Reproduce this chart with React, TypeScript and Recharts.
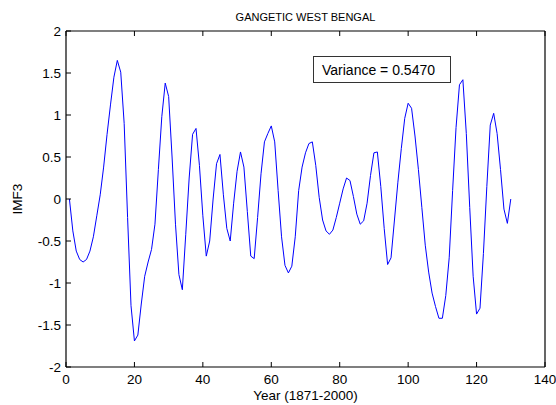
import { LineChart, Line, XAxis, YAxis, Label } from 'recharts';

const FONT = '"Liberation Sans", Arial, sans-serif';

// IMF3 values, one per year, 1871 (x=1) .. 2000 (x=130)
const imf3 = [
  0.0, -0.38, -0.62, -0.72, -0.75, -0.72, -0.62, -0.45, -0.2, 0.05,
  0.38, 0.77, 1.12, 1.45, 1.65, 1.51, 0.9, -0.22, -1.27, -1.69,
  -1.62, -1.25, -0.92, -0.75, -0.6, -0.3, 0.35, 0.98, 1.38, 1.22,
  0.5, -0.3, -0.9, -1.08, -0.42, 0.25, 0.77, 0.84, 0.4, -0.2,
  -0.68, -0.5, 0.0, 0.42, 0.53, 0.05, -0.35, -0.5, -0.05, 0.33,
  0.56, 0.38, -0.15, -0.68, -0.71, -0.22, 0.3, 0.68, 0.78, 0.87,
  0.68, 0.1, -0.45, -0.79, -0.88, -0.8, -0.45, 0.1, 0.38, 0.55,
  0.66, 0.68, 0.4, 0.02, -0.25, -0.38, -0.42, -0.37, -0.22, -0.05,
  0.12, 0.25, 0.22, 0.03, -0.18, -0.3, -0.26, -0.05, 0.28, 0.55,
  0.56, 0.15, -0.35, -0.78, -0.7, -0.25, 0.2, 0.6, 0.96, 1.14,
  1.08, 0.75, 0.35, -0.1, -0.55, -0.87, -1.12, -1.28, -1.42, -1.42,
  -1.15, -0.7, 0.1, 0.85, 1.36, 1.42, 0.78, -0.1, -0.92, -1.37,
  -1.3, -0.65, 0.15, 0.88, 1.02, 0.78, 0.35, -0.12, -0.29, 0.0,
];

const xTicks = [0, 20, 40, 60, 80, 100, 120, 140];
const yTicks = [-2, -1.5, -1, -0.5, 0, 0.5, 1, 1.5, 2];

const data = imf3.map((v, i) => ({ year: i + 1, imf3: v }));

const BottomTick = (props: any) => {
  const { x, y, payload } = props;
  return (
    <g>
      <line x1={x} y1={y} x2={x} y2={y - 5} stroke="#000" />
      <text x={x} y={y + 17} textAnchor="middle" fontSize={13.5} fontFamily={FONT} fill="#000">
        {payload.value}
      </text>
    </g>
  );
};

const TopTick = (props: any) => {
  const { x, y } = props;
  return <line x1={x} y1={y} x2={x} y2={y + 5} stroke="#000" />;
};

const LeftTick = (props: any) => {
  const { x, y, payload } = props;
  return (
    <g>
      <line x1={x} y1={y} x2={x + 5} y2={y} stroke="#000" />
      <text x={x - 5} y={y + 5} textAnchor="end" fontSize={13.5} fontFamily={FONT} fill="#000">
        {payload.value}
      </text>
    </g>
  );
};

const RightTick = (props: any) => {
  const { x, y } = props;
  return <line x1={x} y1={y} x2={x - 5} y2={y} stroke="#000" />;
};

export default function App() {
  return (
    <div style={{ position: 'absolute', left: 0, top: 0, width: 556, height: 405, background: '#fff' }}>
      <LineChart width={556} height={405} data={data} margin={{ top: 0, right: 0, bottom: 0, left: 0 }}>
        <XAxis
          dataKey="year"
          type="number"
          domain={[0, 140]}
          ticks={xTicks}
          height={38}
          tickSize={0}
          tickMargin={0}
          tickLine={false}
          tick={<BottomTick />}
          axisLine={{ stroke: '#000', strokeWidth: 1.2 }}
          interval={0}
        >
          <Label
            content={(p: any) => {
              const vb = p.viewBox;
              return (
                <text x={vb.x + vb.width / 2} y={vb.y + 33} textAnchor="middle" fontSize={13.5} fontFamily={FONT} fill="#000">
                  Year (1871-2000)
                </text>
              );
            }}
          />
        </XAxis>
        <XAxis
          xAxisId="top"
          orientation="top"
          dataKey="year"
          type="number"
          domain={[0, 140]}
          ticks={xTicks}
          height={31}
          tickSize={0}
          tickMargin={0}
          tickLine={false}
          tick={<TopTick />}
          axisLine={{ stroke: '#000', strokeWidth: 1.2 }}
          interval={0}
        >
          <Label
            content={(p: any) => {
              const vb = p.viewBox;
              return (
                <text x={vb.x + vb.width / 2} y={21} textAnchor="middle" fontSize={11} fontFamily={FONT} fill="#000">
                  GANGETIC WEST BENGAL
                </text>
              );
            }}
          />
        </XAxis>
        <YAxis
          type="number"
          domain={[-2, 2]}
          ticks={yTicks}
          width={66}
          tickSize={0}
          tickMargin={0}
          tickLine={false}
          tick={<LeftTick />}
          axisLine={{ stroke: '#000', strokeWidth: 1.2 }}
          interval={0}
        >
          <Label
            content={(p: any) => {
              const vb = p.viewBox;
              const cy = vb.y + vb.height / 2;
              return (
                <text x={22} y={cy} transform={`rotate(-90, 22, ${cy})`} textAnchor="middle" fontSize={13.5} fontFamily={FONT} fill="#000">
                  IMF3
                </text>
              );
            }}
          />
        </YAxis>
        <YAxis
          yAxisId="right"
          orientation="right"
          type="number"
          domain={[-2, 2]}
          ticks={yTicks}
          width={11}
          tickSize={0}
          tickMargin={0}
          tickLine={false}
          tick={<RightTick />}
          axisLine={{ stroke: '#000', strokeWidth: 1.2 }}
          interval={0}
        />
        <Line
          type="linear"
          dataKey="imf3"
          stroke="#0000ff"
          strokeWidth={1}
          dot={false}
          isAnimationActive={false}
        />
      </LineChart>
      <div
        style={{
          position: 'absolute',
          left: 313,
          top: 56,
          width: 138,
          height: 27,
          border: '1px solid #333',
          background: '#fff',
          fontFamily: FONT,
          fontSize: 14,
          lineHeight: '27px',
          paddingLeft: 8,
          boxSizing: 'border-box',
          color: '#000',
        }}
      >
        Variance = 0.5470
      </div>
    </div>
  );
}
